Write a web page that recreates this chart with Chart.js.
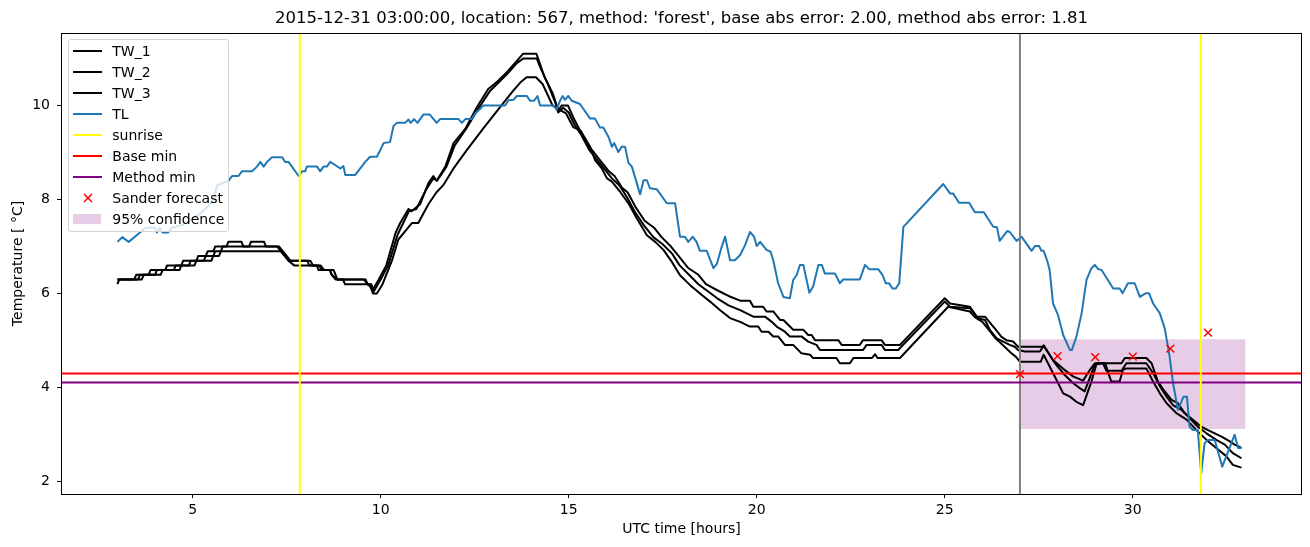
<!DOCTYPE html>
<html>
<head>
<meta charset="utf-8">
<script src="https://cdn.jsdelivr.net/npm/chart.js@4/dist/chart.umd.min.js"></script>
<style>
  html, body { margin: 0; padding: 0; background: #fff; }
  #wrap { position: relative; width: 1310px; height: 547px; }
  #legend {
    position: absolute; left: 68px; top: 39px; width: 159px; height: 191px;
    border: 1px solid #d4d4d4; border-radius: 3px; background: rgba(255,255,255,0.8);
    font: 14px 'DejaVu Sans', sans-serif; color: #000;
  }
  .row { height: 21.05px; display: flex; align-items: center; }
  .swatch { width: 29px; height: 12px; margin-left: 3.7px; margin-right: 10.6px; position: relative; }
  .swatch .ln { position: absolute; left: 0; right: 0; top: 5px; height: 2px; }
  .swatch .patch { position: absolute; left: 0; width: 28px; top: 1.5px; height: 9.5px; }
  .swatch svg { position: absolute; left: 0; top: 0; }
</style>
</head>
<body>
<div id="wrap">
  <canvas id="chart" width="1310" height="547"></canvas>
  <div id="legend"></div>
</div>
<script>
const TITLE = "2015-12-31 03:00:00, location: 567, method: 'forest', base abs error: 2.00, method abs error: 1.81";
const X_TICKS = [5, 10, 15, 20, 25, 30];
const Y_TICKS = [2, 4, 6, 8, 10];
const X_RANGE = [1.5, 34.5];
const Y_RANGE = [1.74, 11.54];

const TW1_T = [3.0, 3.45, 3.5, 3.83, 3.88, 4.27, 4.32, 4.7, 4.75, 5.1, 5.15, 5.35, 5.4, 5.55, 5.6, 5.9, 5.95, 6.3, 6.35, 6.5,
  6.55, 6.9, 6.95, 7.25, 7.35, 7.45, 7.55, 8.13, 8.2, 8.35, 8.45, 8.75, 8.85, 9.55, 9.65, 9.8, 9.95, 10.15, 10.4, 10.52,
  10.74, 10.82, 11.05, 11.27, 11.4, 11.49, 11.72, 11.94, 12.25, 12.55, 12.86, 13.09, 13.35, 13.57, 13.79, 14.14, 14.23, 14.36, 14.58, 14.72,
  14.82, 14.98, 15.12, 15.28, 15.47, 15.67, 15.82, 15.97, 16.07, 16.22, 16.42, 16.57, 16.77, 17.02, 17.27, 17.47, 17.72, 17.92, 18.17, 18.45,
  18.65, 19.0, 19.25, 19.56, 19.82, 19.91, 20.17, 20.26, 20.44, 20.62, 20.71, 20.97, 21.24, 21.37, 21.46, 21.55, 22.17, 22.26, 22.74, 22.83,
  23.32, 23.41, 23.81, 25.0, 25.14, 25.67, 25.85, 26.07, 26.29, 26.33, 26.51, 26.64, 26.82, 26.95, 27.61, 27.63, 27.88, 28.15, 28.41, 28.68,
  28.86, 28.99, 29.7, 29.79, 30.36, 30.5, 30.67, 30.85, 31.03, 31.2, 31.38, 31.6, 31.82, 32.0, 32.18, 32.36, 32.58, 32.71, 32.89];
const TW1_V = [6.3, 6.3, 6.4, 6.4, 6.5, 6.5, 6.6, 6.6, 6.7, 6.7, 6.8, 6.8, 6.9, 6.9, 7.0, 7.0, 7.1, 7.1, 7.0, 7.0,
  7.1, 7.1, 7.0, 7.0, 6.9, 6.8, 6.7, 6.7, 6.6, 6.6, 6.5, 6.5, 6.3, 6.3, 6.2, 6.1, 6.3, 6.6, 7.3, 7.5,
  7.8, 7.75, 7.9, 8.35, 8.5, 8.4, 8.7, 9.2, 9.5, 9.95, 10.35, 10.5, 10.7, 10.9, 11.1, 11.1, 10.9, 10.6, 10.25, 9.9,
  10.0, 10.0, 9.75, 9.5, 9.2, 9.0, 8.85, 8.7, 8.6, 8.5, 8.25, 8.15, 7.85, 7.55, 7.4, 7.2, 7.0, 6.8, 6.55, 6.4,
  6.2, 6.05, 5.95, 5.85, 5.85, 5.72, 5.72, 5.62, 5.62, 5.44, 5.44, 5.23, 5.23, 5.12, 5.12, 5.01, 5.01, 4.91, 4.91, 5.01,
  5.01, 4.91, 4.91, 5.9, 5.79, 5.72, 5.51, 5.51, 5.3, 5.26, 5.08, 5.01, 4.98, 4.87, 4.87, 4.9, 4.59, 4.4, 4.24, 4.15,
  4.38, 4.52, 4.52, 4.63, 4.63, 4.52, 4.13, 3.92, 3.74, 3.67, 3.46, 3.32, 3.17, 3.1, 3.03, 2.96, 2.86, 2.79, 2.72];

const TW2_T = [3.0, 3.55, 3.6, 4.0, 4.05, 4.5, 4.55, 4.9, 4.95, 5.3, 5.35, 5.55, 5.6, 5.75, 5.8, 7.3, 7.4, 7.5, 7.6, 8.05,
  8.1, 8.4, 8.5, 8.65, 8.7, 8.85, 9.6, 9.65, 9.75, 9.82, 10.0, 10.2, 10.45, 10.6, 10.75, 10.95, 11.2, 11.4, 11.5, 11.75,
  11.97, 12.27, 12.57, 12.9, 13.15, 13.4, 13.62, 13.8, 14.15, 14.25, 14.45, 14.65, 14.72, 14.85, 15.0, 15.15, 15.35, 15.55, 15.75, 15.95,
  16.15, 16.35, 16.55, 16.75, 17.0, 17.25, 17.5, 17.75, 17.95, 18.2, 18.45, 18.7, 18.95, 19.25, 19.56, 19.91, 20.22, 20.4, 20.53, 20.75,
  20.88, 21.19, 21.37, 21.59, 21.68, 22.83, 22.92, 23.32, 23.41, 23.76, 25.0, 25.14, 25.67, 25.89, 26.07, 26.2, 26.38, 26.73, 26.86, 26.95,
  27.13, 27.53, 27.63, 27.93, 28.19, 28.41, 28.59, 28.72, 28.99, 29.21, 29.3, 29.7, 29.83, 30.36, 30.54, 30.72, 30.9, 31.07, 31.29, 31.52,
  31.73, 31.96, 32.22, 32.45, 32.66, 32.89];
const TW2_V = [6.3, 6.3, 6.4, 6.4, 6.5, 6.5, 6.6, 6.6, 6.7, 6.7, 6.8, 6.8, 6.9, 6.9, 7.0, 7.0, 6.9, 6.8, 6.7, 6.7,
  6.6, 6.6, 6.5, 6.5, 6.4, 6.3, 6.3, 6.2, 6.2, 6.05, 6.3, 6.6, 7.25, 7.5, 7.75, 7.8, 8.2, 8.45, 8.4, 8.7,
  9.15, 9.5, 9.9, 10.3, 10.5, 10.7, 10.9, 11.0, 11.0, 10.8, 10.45, 10.05, 9.85, 9.95, 9.85, 9.6, 9.35, 9.05, 8.85, 8.65,
  8.45, 8.3, 8.05, 7.75, 7.45, 7.2, 7.05, 6.85, 6.6, 6.4, 6.2, 6.05, 5.9, 5.75, 5.65, 5.51, 5.51, 5.4, 5.3, 5.19,
  5.09, 5.09, 4.98, 4.91, 4.8, 4.8, 4.91, 4.91, 4.8, 4.8, 5.83, 5.72, 5.69, 5.47, 5.44, 5.23, 5.05, 4.91, 4.87, 4.8,
  4.77, 4.77, 4.89, 4.52, 4.27, 4.1, 3.99, 3.92, 4.49, 4.52, 4.36, 4.36, 4.52, 4.52, 4.31, 4.03, 3.81, 3.63, 3.53, 3.35,
  3.17, 3.03, 2.89, 2.79, 2.61, 2.5];

const TW3_T = [3.0, 3.05, 3.65, 3.7, 4.15, 4.2, 4.65, 4.7, 5.05, 5.1, 5.5, 5.55, 5.7, 5.75, 7.35, 7.45, 7.55, 7.7, 8.3, 8.35,
  8.65, 8.7, 8.8, 9.0, 9.05, 9.7, 9.8, 9.9, 10.05, 10.3, 10.47, 10.83, 11.0, 11.27, 11.48, 11.66, 11.93, 12.29, 12.72, 13.16,
  13.51, 13.73, 13.88, 14.13, 14.31, 14.57, 14.77, 14.93, 15.12, 15.31, 15.57, 15.7, 15.88, 16.02, 16.15, 16.37, 16.59, 16.81, 17.08, 17.3,
  17.52, 17.74, 17.96, 18.23, 18.54, 18.76, 19.02, 19.29, 19.56, 19.82, 20.04, 20.13, 20.31, 20.44, 20.57, 20.75, 20.97, 21.19, 21.42, 21.5,
  22.12, 22.21, 22.48, 22.57, 23.06, 23.15, 23.21, 23.81, 25.09, 25.67, 25.8, 26.0, 26.2, 26.35, 26.55, 26.75, 26.9, 27.0, 27.55, 27.63,
  27.97, 28.15, 28.33, 28.5, 28.68, 28.9, 29.04, 29.27, 29.35, 29.43, 29.65, 29.74, 29.83, 30.36, 30.54, 30.72, 30.9, 31.16, 31.43, 31.69,
  31.96, 32.22, 32.49, 32.66, 32.89];
const TW3_V = [6.2, 6.3, 6.3, 6.4, 6.4, 6.5, 6.5, 6.6, 6.6, 6.7, 6.7, 6.8, 6.8, 6.9, 6.9, 6.8, 6.7, 6.6, 6.6, 6.5,
  6.5, 6.4, 6.3, 6.3, 6.2, 6.2, 6.0, 6.0, 6.2, 6.7, 7.15, 7.5, 7.5, 7.9, 8.15, 8.3, 8.65, 9.05, 9.5, 9.95,
  10.3, 10.5, 10.6, 10.6, 10.45, 10.0, 9.9, 9.83, 9.54, 9.47, 9.12, 8.84, 8.66, 8.45, 8.38, 8.16, 7.92, 7.6, 7.24, 7.1,
  6.93, 6.68, 6.39, 6.18, 5.97, 5.83, 5.65, 5.48, 5.4, 5.3, 5.3, 5.19, 5.19, 5.09, 5.09, 4.91, 4.91, 4.73, 4.7, 4.63,
  4.63, 4.52, 4.52, 4.63, 4.63, 4.71, 4.63, 4.63, 5.72, 5.62, 5.5, 5.4, 5.2, 5.05, 4.9, 4.75, 4.65, 4.55, 4.55, 4.7,
  4.17, 3.88, 3.81, 3.7, 3.63, 4.13, 4.52, 4.52, 4.31, 4.13, 4.13, 4.38, 4.41, 4.41, 4.13, 3.88, 3.67, 3.46, 3.32, 3.1,
  2.89, 2.72, 2.54, 2.36, 2.3];

const TL_T = [3.0, 3.13, 3.3, 3.45, 3.6, 3.75, 4.0, 4.05, 4.12, 4.2, 4.35, 4.45, 4.7, 4.8, 5.0, 5.2, 5.4, 5.55, 5.65, 5.96,
  6.05, 6.22, 6.31, 6.58, 6.71, 6.8, 6.89, 6.98, 7.11, 7.38, 7.46, 7.55, 7.82, 7.91, 7.99, 8.04, 8.31, 8.39, 8.48, 8.57,
  8.66, 8.93, 9.01, 9.06, 9.32, 9.59, 9.72, 9.9, 10.08, 10.25, 10.34, 10.43, 10.65, 10.74, 10.8, 10.89, 10.98, 11.14, 11.3, 11.49,
  11.58, 12.07, 12.16, 12.25, 12.42, 12.51, 12.65, 12.73, 13.31, 13.4, 13.53, 13.62, 13.89, 13.97, 14.08, 14.17, 14.24, 14.59, 14.68, 14.77,
  14.84, 14.9, 14.99, 15.08, 15.3, 15.57, 15.7, 15.83, 15.92, 16.06, 16.15, 16.21, 16.32, 16.41, 16.5, 16.59, 16.68, 16.9, 16.99, 17.08,
  17.16, 17.34, 17.61, 17.83, 17.96, 18.09, 18.18, 18.3, 18.4, 18.49, 18.67, 18.85, 18.94, 19.07, 19.16, 19.29, 19.42, 19.56, 19.69, 19.82,
  19.93, 20.0, 20.09, 20.26, 20.37, 20.44, 20.57, 20.71, 20.88, 20.97, 21.06, 21.15, 21.24, 21.4, 21.5, 21.64, 21.73, 21.81, 22.08, 22.21,
  22.3, 22.74, 22.88, 22.99, 23.23, 23.35, 23.43, 23.52, 23.61, 23.7, 23.79, 23.9, 24.96, 25.14, 25.22, 25.38, 25.65, 25.8, 26.04, 26.29,
  26.39, 26.46, 26.66, 26.73, 26.91, 27.04, 27.31, 27.4, 27.51, 27.57, 27.63, 27.72, 27.79, 27.88, 28.01, 28.15, 28.33, 28.38, 28.5, 28.64,
  28.77, 28.9, 28.99, 29.08, 29.17, 29.48, 29.65, 29.73, 29.87, 30.05, 30.19, 30.35, 30.43, 30.54, 30.72, 30.85, 30.98, 31.07, 31.2, 31.35,
  31.44, 31.51, 31.6, 31.73, 31.82, 31.91, 32.0, 32.18, 32.38, 32.71, 32.8, 32.89];
const TL_V = [7.1, 7.2, 7.1, 7.2, 7.3, 7.4, 7.4, 7.3, 7.4, 7.3, 7.3, 7.4, 7.45, 7.5, 7.6, 7.7, 7.85, 8.0, 8.3, 8.4,
  8.5, 8.5, 8.6, 8.6, 8.7, 8.8, 8.7, 8.8, 8.9, 8.9, 8.8, 8.8, 8.5, 8.6, 8.6, 8.7, 8.7, 8.6, 8.7, 8.7,
  8.8, 8.66, 8.71, 8.52, 8.52, 8.8, 8.91, 8.91, 9.2, 9.22, 9.56, 9.63, 9.63, 9.7, 9.63, 9.71, 9.63, 9.81, 9.81, 9.63,
  9.71, 9.71, 9.63, 9.71, 9.71, 9.83, 9.93, 10.0, 10.0, 10.11, 10.12, 10.2, 10.2, 10.1, 10.1, 10.2, 10.0, 10.0, 9.91, 10.1,
  10.2, 10.12, 10.2, 10.1, 10.03, 9.72, 9.72, 9.53, 9.53, 9.33, 9.12, 9.2, 9.01, 9.12, 9.12, 8.78, 8.7, 8.11, 8.41, 8.41,
  8.24, 8.22, 7.92, 7.92, 7.21, 7.21, 7.1, 7.21, 7.1, 6.91, 6.91, 6.54, 6.63, 7.0, 7.21, 6.71, 6.71, 6.82, 7.03, 7.31,
  7.21, 7.01, 7.1, 6.93, 6.89, 6.71, 6.22, 5.93, 5.9, 6.29, 6.39, 6.61, 6.61, 6.02, 6.15, 6.61, 6.61, 6.43, 6.43, 6.22,
  6.3, 6.3, 6.61, 6.52, 6.52, 6.39, 6.22, 6.22, 6.11, 6.11, 6.22, 7.42, 8.33, 8.13, 8.13, 7.93, 7.93, 7.73, 7.73, 7.42,
  7.41, 7.12, 7.33, 7.31, 7.12, 7.21, 6.91, 7.01, 7.01, 6.91, 6.91, 6.71, 6.5, 5.79, 5.55, 5.12, 4.8, 4.8, 5.08, 5.58,
  6.29, 6.54, 6.61, 6.52, 6.5, 6.11, 6.11, 6.01, 6.22, 6.22, 5.93, 6.01, 6.01, 5.79, 5.58, 5.26, 4.66, 4.1, 3.53, 3.81,
  3.81, 3.17, 3.1, 3.1, 2.18, 2.82, 2.89, 2.89, 2.32, 3.0, 2.72, 2.72];

const SUNRISE = [7.85, 31.81];
const FORECAST_START = 27.0;
const BASE_MIN = 4.3;
const METHOD_MIN = 4.11;
const SANDER_T = [27, 28, 29, 30, 31, 32];
const SANDER_V = [4.29, 4.67, 4.65, 4.66, 4.83, 5.17];
const CONF_T = [27, 33];
const CONF_LO = 3.12;
const CONF_HI = 5.03;

const FONT = "'DejaVu Sans', sans-serif";
const BLUE = '#1f77b4';
const CONF_COLOR = 'rgba(128,0,128,0.2)';

const xy = (ts, vs) => ts.map((t, i) => ({ x: t, y: vs[i] }));
const vline = t => [{ x: t, y: Y_RANGE[0] }, { x: t, y: Y_RANGE[1] }];
const hline = v => [{ x: X_RANGE[0], y: v }, { x: X_RANGE[1], y: v }];

function lineSet(label, data, color, order) {
  return { label, data, borderColor: color, backgroundColor: color, borderWidth: 2,
    pointRadius: 0, tension: 0, fill: false, order, borderJoinStyle: 'round' };
}

const datasets = [
  lineSet('TW_1', xy(TW1_T, TW1_V), '#000', 6),
  lineSet('TW_2', xy(TW2_T, TW2_V), '#000', 6),
  lineSet('TW_3', xy(TW3_T, TW3_V), '#000', 6),
  lineSet('TL', xy(TL_T, TL_V), BLUE, 5),
  lineSet('sunrise', vline(SUNRISE[0]), '#ffff00', 4),
  lineSet('sunrise2', vline(SUNRISE[1]), '#ffff00', 4),
  lineSet('Base min', hline(BASE_MIN), '#ff0000', 4),
  lineSet('Method min', hline(METHOD_MIN), '#800080', 4),
  lineSet('start', vline(FORECAST_START), '#808080', 4),
  { label: 'Sander forecast', data: xy(SANDER_T, SANDER_V), showLine: false,
    pointStyle: 'crossRot', pointRadius: 5.5, pointBorderWidth: 1.5,
    pointBorderColor: '#ff0000', pointBackgroundColor: '#ff0000', borderColor: '#ff0000', order: 1 },
  { label: '95% confidence', data: xy(CONF_T, [CONF_HI, CONF_HI]), borderWidth: 0, pointRadius: 0,
    fill: { value: CONF_LO }, backgroundColor: CONF_COLOR, borderColor: CONF_COLOR, order: 10 }
];

// matplotlib style box around the axes
const frame = {
  id: 'frame',
  afterDraw(chart) {
    const { ctx, chartArea: a } = chart;
    ctx.save();
    ctx.strokeStyle = '#000';
    ctx.lineWidth = 1;
    ctx.strokeRect(Math.round(a.left) + 0.5, Math.round(a.top) + 0.5,
      Math.round(a.right - a.left) - 1, Math.round(a.bottom - a.top));
    ctx.restore();
  }
};

new Chart(document.getElementById('chart'), {
  type: 'line',
  data: { datasets },
  options: {
    responsive: false,
    animation: false,
    devicePixelRatio: 1,
    layout: { padding: { left: 0, right: 8, top: 0, bottom: 0 } },
    plugins: {
      legend: { display: false },
      tooltip: { enabled: false },
      title: {
        display: true, text: TITLE, color: '#000', fullSize: false,
        font: { family: FONT, size: 16.5, weight: 'normal' },
        padding: { top: 8.5, bottom: 4.7 }
      }
    },
    scales: {
      x: {
        type: 'linear', min: X_RANGE[0], max: X_RANGE[1],
        afterBuildTicks: s => { s.ticks = X_TICKS.map(v => ({ value: v })); },
        afterFit: s => { s.height = 53; },
        ticks: { color: '#000', font: { family: FONT, size: 14 }, padding: 4, maxRotation: 0, autoSkip: false },
        grid: { drawOnChartArea: false, drawTicks: true, tickLength: 4, color: '#000' },
        border: { display: false },
        title: { display: true, text: 'UTC time [hours]', color: '#000',
          font: { family: FONT, size: 14 }, padding: { top: 0, bottom: 9.6 } }
      },
      y: {
        type: 'linear', min: Y_RANGE[0], max: Y_RANGE[1],
        afterBuildTicks: s => { s.ticks = Y_TICKS.map(v => ({ value: v })); },
        afterFit: s => { s.width = 61; },
        ticks: { color: '#000', font: { family: FONT, size: 14 }, padding: 7 },
        grid: { drawOnChartArea: false, drawTicks: true, tickLength: 4, color: '#000' },
        border: { display: false },
        title: { display: true, text: 'Temperature [ °C]', color: '#000',
          font: { family: FONT, size: 14 }, padding: { top: 9.6, bottom: 0 } }
      }
    }
  },
  plugins: [frame]
});

// legend drawn as html, placed inside the axes like matplotlib's
const LEGEND = [
  { label: 'TW_1', kind: 'line', color: '#000' },
  { label: 'TW_2', kind: 'line', color: '#000' },
  { label: 'TW_3', kind: 'line', color: '#000' },
  { label: 'TL', kind: 'line', color: BLUE },
  { label: 'sunrise', kind: 'line', color: '#ffff00' },
  { label: 'Base min', kind: 'line', color: '#ff0000' },
  { label: 'Method min', kind: 'line', color: '#800080' },
  { label: 'Sander forecast', kind: 'x', color: '#ff0000' },
  { label: '95% confidence', kind: 'patch', color: CONF_COLOR }
];
const legendEl = document.getElementById('legend');
LEGEND.forEach(item => {
  const row = document.createElement('div');
  row.className = 'row';
  let sw = '';
  if (item.kind === 'line') sw = `<div class="ln" style="background:${item.color}"></div>`;
  else if (item.kind === 'patch') sw = `<div class="patch" style="background:${item.color}"></div>`;
  else sw = `<svg width="29" height="12"><path d="M11 2 L19 10 M19 2 L11 10" stroke="${item.color}" stroke-width="1.5"/></svg>`;
  row.innerHTML = `<div class="swatch">${sw}</div><span>${item.label}</span>`;
  legendEl.appendChild(row);
});
</script>
</body>
</html>
